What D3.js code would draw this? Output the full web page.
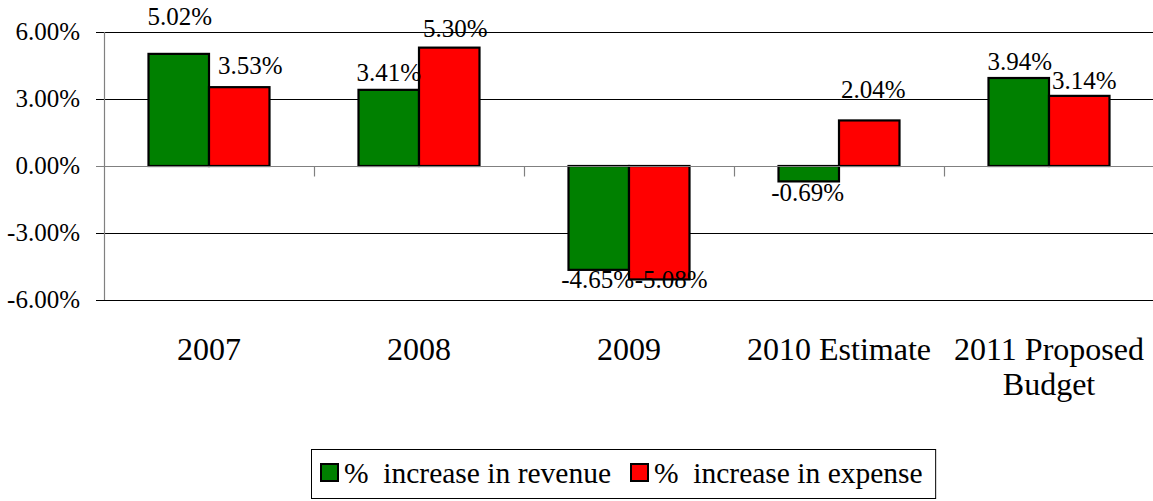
<!DOCTYPE html>
<html>
<head>
<meta charset="utf-8">
<script src="https://cdn.jsdelivr.net/npm/d3@7"></script>
<style>
  html, body { margin: 0; padding: 0; background: #fff; }
  svg text { font-family: 'Liberation Serif', 'Times New Roman', Times, 'DejaVu Serif', serif; fill: #000; }
</style>
</head>
<body>
<svg id="chart" width="1153" height="501"></svg>
<script>
// chart data
const categories = ['2007', '2008', '2009', '2010 Estimate', '2011 Proposed Budget'];
const seriesNames = ['% increase in revenue', '% increase in expense'];
const revenue = [5.02, 3.41, -4.65, -0.69, 3.94];
const expense = [3.53, 5.30, -5.08, 2.04, 3.14];
const yTicks = [-6, -3, 0, 3, 6];
const colors = ['#008000', '#ff0000'];

// hand placed label nudges [dx, dy] (labels were dragged in the original)
const nudge = [
  [[1, -23], [11, -7]],
  [[0, -3], [6, -5]],
  [[-1, -2], [12, -11]],
  [[-1, 0], [4, -16]],
  [[1, -2], [5, -1]]
];

const svg = d3.select('#chart');
const plotLeft = 104, plotRight = 1154, plotTop = 32, plotBottom = 300;
const pct = v => v.toFixed(2) + '%';

const x = d3.scaleBand().domain(categories).range([plotLeft, plotRight]);
const xs = d3.scaleBand().domain([0, 1]).range([44.5, 165.5]);
const y = d3.scaleLinear().domain([-6, 6]).range([plotBottom, plotTop]);

// gridlines
svg.append('g')
  .selectAll('line')
  .data(yTicks.filter(t => t !== 0))
  .enter().append('line')
  .attr('x1', 96).attr('x2', 1153)
  .attr('y1', d => Math.round(y(d)) + 0.5)
  .attr('y2', d => Math.round(y(d)) + 0.5)
  .attr('stroke', '#000').attr('stroke-width', 1);

// y tick labels
svg.append('g')
  .selectAll('text')
  .data(yTicks)
  .enter().append('text')
  .attr('x', 80)
  .attr('y', d => y(d) + 8)
  .attr('text-anchor', 'end')
  .style('font-size', '25px')
  .text(pct);

// bars
const groups = svg.append('g')
  .selectAll('g')
  .data(categories)
  .enter().append('g')
  .attr('transform', d => 'translate(' + x(d) + ',0)');

const rows = categories.map((c, i) => [revenue[i], expense[i]]);

groups.each(function(c, i) {
  const g = d3.select(this);
  rows[i].forEach((v, s) => {
    g.append('rect')
      .attr('x', xs(s))
      .attr('width', xs.bandwidth())
      .attr('y', Math.min(y(v), y(0)))
      .attr('height', Math.abs(y(v) - y(0)))
      .attr('fill', colors[s])
      .attr('stroke', '#000')
      .attr('stroke-width', 2.2);
  });
});

// axis lines
const zeroY = Math.round(y(0)) + 0.5;
svg.append('line')
  .attr('x1', 96).attr('x2', 1153)
  .attr('y1', zeroY).attr('y2', zeroY)
  .attr('stroke', '#808080').attr('stroke-width', 1.2);
svg.append('line')
  .attr('x1', plotLeft + 0.5).attr('x2', plotLeft + 0.5)
  .attr('y1', plotTop).attr('y2', plotBottom)
  .attr('stroke', '#808080').attr('stroke-width', 1.2);
svg.append('g')
  .selectAll('line')
  .data(categories.slice(1))
  .enter().append('line')
  .attr('x1', d => x(d) + 0.5).attr('x2', d => x(d) + 0.5)
  .attr('y1', zeroY).attr('y2', zeroY + 10)
  .attr('stroke', '#808080').attr('stroke-width', 1.2);

// value labels
groups.each(function(c, i) {
  const g = d3.select(this);
  rows[i].forEach((v, s) => {
    const n = nudge[i][s];
    const base = v >= 0 ? y(v) - 6 : y(v) + 20;
    g.append('text')
      .attr('x', xs(s) + xs.bandwidth() / 2 + n[0])
      .attr('y', base + n[1])
      .attr('text-anchor', 'middle')
      .style('font-size', '25px')
      .text(pct(v));
  });
});

// category labels, wrapped
const catLabels = svg.append('g')
  .selectAll('text')
  .data(categories)
  .enter().append('text')
  .attr('text-anchor', 'middle')
  .style('font-size', '32px')
  .attr('x', d => x(d) + x.bandwidth() / 2)
  .attr('y', 360);

catLabels.each(function(d) {
  const t = d3.select(this);
  const lines = d.startsWith('2011') ? ['2011 Proposed', 'Budget'] : [d];
  lines.forEach((l, k) => {
    t.append('tspan')
      .attr('x', x(d) + x.bandwidth() / 2)
      .attr('dy', k === 0 ? 0 : 35)
      .text(l);
  });
});

// legend, items laid out from measured text widths
const legend = svg.append('g');
const box = legend.append('rect')
  .attr('x', 311.5).attr('y', 449.5)
  .attr('height', 49)
  .attr('fill', '#fff')
  .attr('stroke', '#000').attr('stroke-width', 1);

let cursor = 321;
seriesNames.forEach((name, s) => {
  legend.append('rect')
    .attr('x', cursor).attr('y', 464)
    .attr('width', 17).attr('height', 17)
    .attr('fill', colors[s])
    .attr('stroke', '#000').attr('stroke-width', 2);
  const t = legend.append('text')
    .attr('x', cursor + 23).attr('y', 483)
    .style('font-size', '29.5px')
    .style('white-space', 'pre')
    .text(name.replace('% ', '%  '));
  cursor = cursor + 23 + t.node().getComputedTextLength() + 20;
});
box.attr('width', cursor - 20 + 13 - 311.5);
</script>
</body>
</html>
